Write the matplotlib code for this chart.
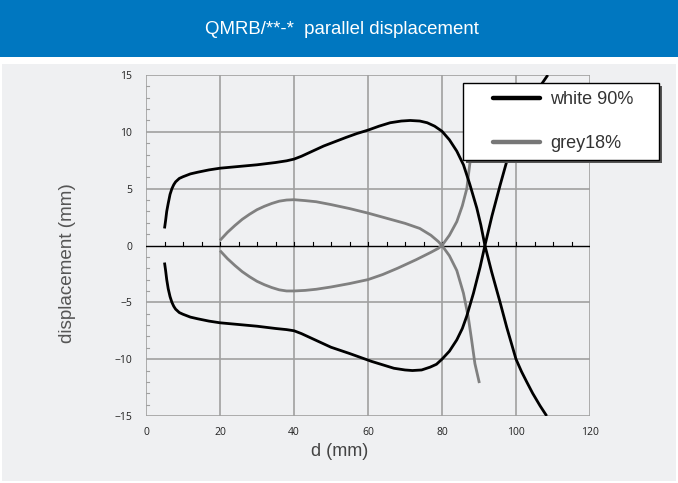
import numpy as np
import matplotlib.pyplot as plt
from matplotlib.patches import Rectangle
from matplotlib.lines import Line2D

# --- data ---
# white 90%: branch starting above zero
white_a_x = [5, 5.3, 5.6, 6.0, 6.5, 7.0, 7.5, 8, 9, 10, 12, 14, 17, 20, 25, 30, 35, 38, 40, 42,
             45, 48, 50, 54, 57, 60, 63, 66, 69, 71.4, 74, 76, 78, 80, 82, 84, 85.8, 87.5, 89.4,
             90.5, 91.6, 93.4, 95.7, 97.5, 100, 101.5, 102.9, 104.5, 106.5, 108.3]
white_a_y = [1.5, 2.2, 3.0, 3.7, 4.5, 5.0, 5.35, 5.6, 5.9, 6.05, 6.3, 6.45, 6.65, 6.8, 6.95,
             7.1, 7.3, 7.45, 7.6, 7.85, 8.3, 8.75, 9.0, 9.5, 9.85, 10.15, 10.5, 10.8, 10.95, 11.0,
             10.95, 10.8, 10.5, 10.05, 9.3, 8.3, 7.1, 5.4, 3.3, 1.8, 0, -2.3, -5.0, -7.2, -10.0,
             -11.1, -12.0, -13.0, -14.1, -15.0]
# white 90%: branch starting below zero
white_b_x = [5, 5.3, 5.6, 6.0, 6.5, 7.0, 7.5, 8, 9, 10, 12, 14, 17, 20, 25, 30, 35, 38, 40, 42,
             45, 48, 50, 55, 58, 61, 64, 67, 70, 72, 74.5, 76.8, 78.5, 80, 82, 84, 85.5, 86.7,
             88.5, 90.3, 91.6, 93.5, 95.7, 97.5, 100, 101.5, 103, 104.5, 106.5, 108.6]
white_b_y = [-1.5, -2.2, -3.0, -3.8, -4.5, -5.0, -5.35, -5.6, -5.9, -6.05, -6.3, -6.45, -6.65,
             -6.8, -6.95, -7.1, -7.3, -7.4, -7.5, -7.75, -8.2, -8.65, -8.95, -9.5, -9.85, -10.2,
             -10.5, -10.8, -10.95, -11.0, -10.95, -10.7, -10.45, -10.0, -9.3, -8.3, -7.3, -6.2,
             -4.2, -1.9, 0, 2.6, 5.3, 7.4, 10.0, 11.1, 12.1, 13.0, 14.0, 15.0]

# grey18%: branch starting above zero
grey_a_x = [20, 21, 22, 24, 26, 28, 30, 32, 34, 36, 38, 40, 43, 46, 50, 55, 60, 65, 70, 74, 77,
            79, 80, 82, 84, 85.8, 87.1, 88, 88.9, 90.1]
grey_a_y = [0.45, 0.8, 1.15, 1.75, 2.3, 2.75, 3.15, 3.45, 3.7, 3.9, 4.0, 4.03, 3.95, 3.85, 3.6,
            3.25, 2.85, 2.4, 1.95, 1.5, 0.9, 0.35, 0, -0.9, -2.2, -4.2, -6.3, -8.3, -10.4, -12.1]
# grey18%: branch starting below zero
grey_b_x = [20, 21, 22, 24, 26, 28, 30, 32, 34, 36, 38, 40, 43, 46, 50, 55, 60, 64, 68, 73, 77,
            79, 80, 82, 84, 85.5, 86.7, 87.6, 88.5, 89.3, 90.1]
grey_b_y = [-0.45, -0.8, -1.15, -1.75, -2.3, -2.75, -3.15, -3.45, -3.7, -3.9, -4.0, -4.0, -3.95,
            -3.85, -3.65, -3.35, -3.0, -2.55, -2.0, -1.25, -0.6, -0.25, 0, 0.9, 2.1, 3.5, 5.0,
            7.4, 9.4, 10.9, 12.1]

x_ticks = [0, 20, 40, 60, 80, 100, 120]
y_ticks = [-15, -10, -5, 0, 5, 10, 15]

W, H = 678, 483
fig = plt.figure(figsize=(W / 100, H / 100), dpi=100)
fig.patch.set_facecolor('white')

def fx(px):
    return px / W

def fy(py):
    return 1 - py / H

# header band and grey panel
fig.add_artist(Rectangle((0, fy(57)), 1, 57 / H, transform=fig.transFigure,
                         facecolor='#0077c0', edgecolor='none', zorder=0))
fig.add_artist(Rectangle((fx(2), fy(481)), 674 / W, (481 - 64) / H, transform=fig.transFigure,
                         facecolor='#eff0f2', edgecolor='none', zorder=0))
fig.text(fx(342), fy(30), 'QMRB/**-*  parallel displacement', color='white',
         ha='center', va='center', fontsize=13.4, family='Liberation Sans')

# axes: x 146..590, y 75..416
ax = fig.add_axes([fx(146), fy(416), (590 - 146) / W, (416 - 75) / H])
ax.set_facecolor('none')
ax.set_xlim(0, 120)
ax.set_ylim(-15, 15)

kw = dict(lw=2.0, solid_joinstyle='round', solid_capstyle='butt')
ax.plot(white_a_x, white_a_y, color='black', zorder=4, **kw)
ax.plot(white_b_x, white_b_y, color='black', zorder=4, **kw)
ax.plot(grey_a_x, grey_a_y, color='#808080', zorder=3, **kw)
ax.plot(grey_b_x, grey_b_y, color='#808080', zorder=3, **kw)

# grid
for xv in x_ticks[1:]:
    ax.axvline(xv, color='#a0a0a0', lw=1.2, zorder=1)
for yv in y_ticks:
    if yv != 0:
        ax.axhline(yv, color='#a0a0a0', lw=1.2, zorder=1)
ax.axhline(0, color='black', lw=1.0, zorder=2)
# small ticks on zero line
for xv in np.arange(5, 120, 5):
    ax.plot([xv, xv], [0, 0.3], color='black', lw=0.8, zorder=2)
# small ticks on left spine
for yv in np.arange(-14, 15, 1):
    if yv % 5 != 0:
        ax.plot([0, 0.7], [yv, yv], color='#a0a0a0', lw=0.8, zorder=1)

for s in ax.spines.values():
    s.set_visible(False)
ax.plot([0, 0], [-15, 15], color='#a0a0a0', lw=1.2, zorder=1)

ax.set_xticks(x_ticks)
ax.set_yticks(y_ticks)
ax.tick_params(length=0, labelsize=7.5, colors='#222222')
ax.tick_params(axis='x', pad=8)
ax.tick_params(axis='y', pad=10)
for lab in ax.get_xticklabels() + ax.get_yticklabels():
    lab.set_family('Open Sans')

fig.text(fx(340), fy(451), 'd (mm)', fontsize=13, color='#444444', ha='center', va='center',
         family='Liberation Sans')
fig.text(fx(68), fy(263), 'displacement (mm)', fontsize=13.6, color='#555555', ha='center',
         va='center', rotation=90, family='Liberation Sans')

# legend box drawn in figure coordinates
lx0, lx1, ly0, ly1 = 463, 659, 83, 160
fig.add_artist(Rectangle((fx(lx0 + 3), fy(ly1 + 3)), (lx1 - lx0) / W, (ly1 - ly0) / H,
                         transform=fig.transFigure, facecolor='#555555', edgecolor='none',
                         zorder=9))
fig.add_artist(Rectangle((fx(lx0), fy(ly1)), (lx1 - lx0) / W, (ly1 - ly0) / H,
                         transform=fig.transFigure, facecolor='white', edgecolor='black',
                         lw=1.0, zorder=10))
for name, col, yy in [('white 90%', 'black', 98), ('grey18%', '#777777', 142)]:
    fig.add_artist(Line2D([fx(493), fx(540)], [fy(yy), fy(yy)], transform=fig.transFigure,
                          color=col, lw=3.2, solid_capstyle='round', zorder=11))
    fig.text(fx(550), fy(yy + 1), name, ha='left', va='center', fontsize=13,
             color='#333333', family='Liberation Sans', zorder=11)

fig.savefig('out.png', dpi=100)
